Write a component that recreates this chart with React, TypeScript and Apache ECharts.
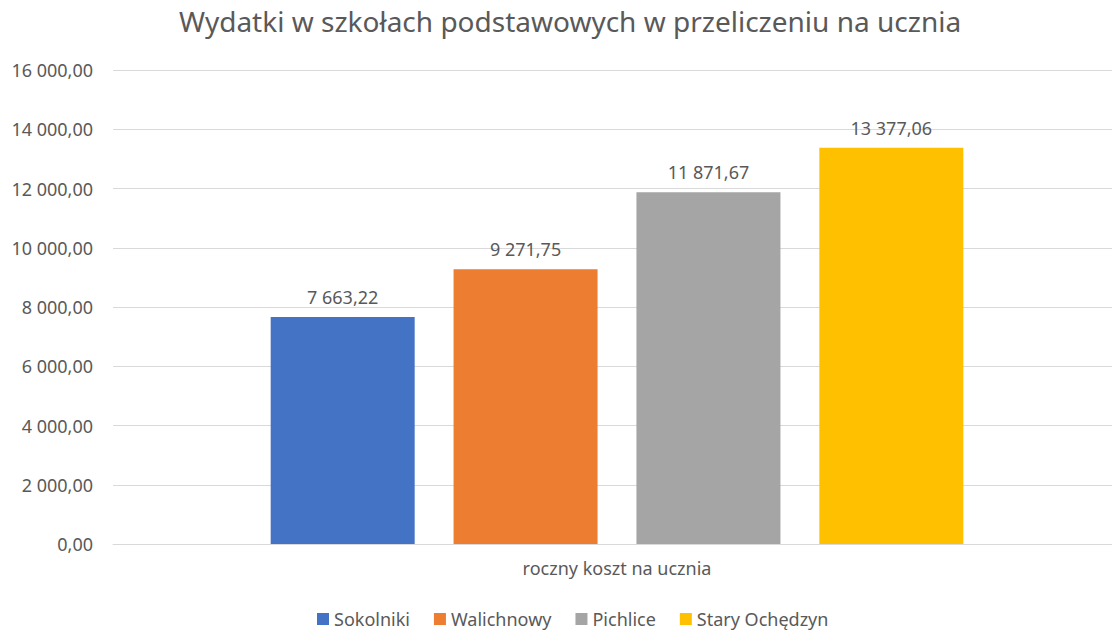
import React, { useEffect, useRef } from "react";
import * as echarts from "echarts";

const categories = ["roczny koszt na ucznia"];
const seriesNames = ["Sokolniki", "Walichnowy", "Pichlice", "Stary Ochędzyn"];
const seriesValues = [7663.22, 9271.75, 11871.67, 13377.06];
const seriesColors = ["#4472C4", "#ED7D31", "#A5A5A5", "#FFC000"];
const titleText = "Wydatki w szkołach podstawowych w przeliczeniu na ucznia";

const FONT = "'Noto Sans', sans-serif";
const TXT = "#595959";

function fmt(v: number): string {
  const [i, d] = v.toFixed(2).split(".");
  return i.replace(/\B(?=(\d{3})+(?!\d))/g, " ") + "," + d;
}

export default function App() {
  const ref = useRef<HTMLDivElement>(null);
  useEffect(() => {
    if (!ref.current) return;
    const chart = echarts.init(ref.current, undefined, { renderer: "svg" });
    chart.setOption({
      animation: false,
      backgroundColor: "#ffffff",
      textStyle: { fontFamily: FONT },
      title: {
        text: titleText,
        left: 565,
        textAlign: "center",
        top: 2,
        textStyle: { fontFamily: FONT, fontSize: 28, fontWeight: "normal", color: TXT },
      },
      legend: {
        data: seriesNames,
        left: 312,
        top: 605,
        icon: "rect",
        itemWidth: 12,
        itemHeight: 12,
        itemGap: 24,
        textStyle: { fontFamily: FONT, fontSize: 18, color: TXT },
      },
      grid: { left: 113, top: 70, right: 0, height: 474, containLabel: false },
      xAxis: {
        type: "category",
        data: categories,
        axisLine: { lineStyle: { color: "#D9D9D9", width: 1 } },
        axisTick: { show: false },
        axisLabel: { fontFamily: FONT, fontSize: 18, color: TXT, margin: 15 },
      },
      yAxis: {
        type: "value",
        min: 0,
        max: 16000,
        interval: 2000,
        axisLine: { show: false },
        axisTick: { show: false },
        splitLine: { lineStyle: { color: "#D9D9D9", width: 1 } },
        axisLabel: {
          fontFamily: FONT,
          fontSize: 18,
          color: TXT,
          margin: 20,
          formatter: (v: number) => fmt(v),
        },
      },
      series: seriesNames.map((name, i) => ({
        name,
        type: "bar",
        data: [seriesValues[i]],
        barWidth: 144,
        barGap: "27%",
        itemStyle: { color: seriesColors[i] },
        label: {
          show: true,
          position: "top",
          distance: 11,
          fontFamily: FONT,
          fontSize: 18,
          color: TXT,
          formatter: (p: any) => fmt(p.value),
        },
      })),
    });
    return () => chart.dispose();
  }, []);
  return (
    <div style={{ position: "fixed", left: 0, top: 0, width: 1112, height: 631, overflow: "hidden" }}>
      <div ref={ref} style={{ position: "absolute", left: 0, top: 0, width: 1121, height: 631 }} />
    </div>
  );
}
